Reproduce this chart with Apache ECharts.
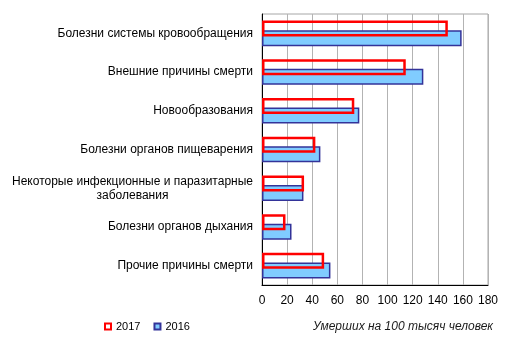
<!DOCTYPE html>
<html>
<head>
<meta charset="utf-8">
<script src="https://cdn.jsdelivr.net/npm/echarts@6/dist/echarts.min.js"></script>
<style>html,body{margin:0;padding:0;background:#fff}#c{width:514px;height:354px}</style>
</head>
<body>
<div id="c"></div>
<script>
var categories = [
  'Болезни системы кровообращения',
  'Внешние причины смерти',
  'Новообразования',
  'Болезни органов пищеварения',
  'Некоторые инфекционные и паразитарные\nзаболевания',
  'Болезни органов дыхания',
  'Прочие причины смерти'
];
var values2017 = [148, 114.5, 73.5, 42.5, 33.5, 18.7, 49.5];
var values2016 = [159, 128.5, 77.5, 46.5, 33, 23.5, 54.5];
var xTicks = { min: 0, max: 180, interval: 20 };
var unitNote = 'Умерших на 100 тысяч человек';

var chart = echarts.init(document.getElementById('c'), null, { renderer: 'canvas' });
var font = 'Liberation Sans, Arial, sans-serif';
chart.setOption({
  animation: false,
  textStyle: { fontFamily: font },
  grid: { left: 262, right: 26, top: 14, bottom: 69, show: true, borderColor: '#a6a6a6', borderWidth: 1 },
  legend: {
    data: ['2017', '2016'],
    left: 99, top: 316,
    itemWidth: 6, itemHeight: 6, itemGap: 13,
    icon: 'rect',
    textStyle: { fontFamily: font, fontSize: 11, color: '#000' }
  },
  xAxis: {
    type: 'value', min: xTicks.min, max: xTicks.max, interval: xTicks.interval,
    axisLine: { show: true, lineStyle: { color: '#000', width: 1 } },
    axisTick: { show: false },
    splitLine: { show: true, lineStyle: { color: '#b3b3b3', width: 1 } },
    axisLabel: { color: '#000', fontSize: 12, margin: 10, fontFamily: font }
  },
  yAxis: {
    type: 'category', data: categories, inverse: true,
    axisLine: { show: true, lineStyle: { color: '#000', width: 1 } },
    axisTick: { show: false },
    axisLabel: {
      color: '#000', fontSize: 12, margin: 9, fontFamily: font, lineHeight: 14,
      formatter: function (v) {
        var parts = v.split('\n');
        if (parts.length === 1) return '{a|' + v + '}';
        return '{a|' + parts[0] + '}\n{b|' + parts[1] + '}';
      },
      rich: {
        a: { fontSize: 12, fontFamily: font, color: '#000', lineHeight: 14 },
        b: { fontSize: 12, fontFamily: font, color: '#000', lineHeight: 14, align: 'center' }
      }
    }
  },
  series: [
    {
      name: '2017', type: 'bar', data: values2017, barWidth: 16, barGap: '-40%', z: 5,
      itemStyle: { color: 'rgba(255,255,255,0)', borderColor: '#ff0000', borderWidth: 2.5 }
    },
    {
      name: '2016', type: 'bar', data: values2016, barWidth: 16, z: 2,
      itemStyle: { color: '#80ccff', borderColor: '#333399', borderWidth: 1.5 }
    }
  ],
  graphic: [{
    type: 'text', right: 21, top: 321,
    style: { text: unitNote, font: 'italic 12px ' + font, fill: '#1a1a1a' }
  }]
});
</script>
</body>
</html>
